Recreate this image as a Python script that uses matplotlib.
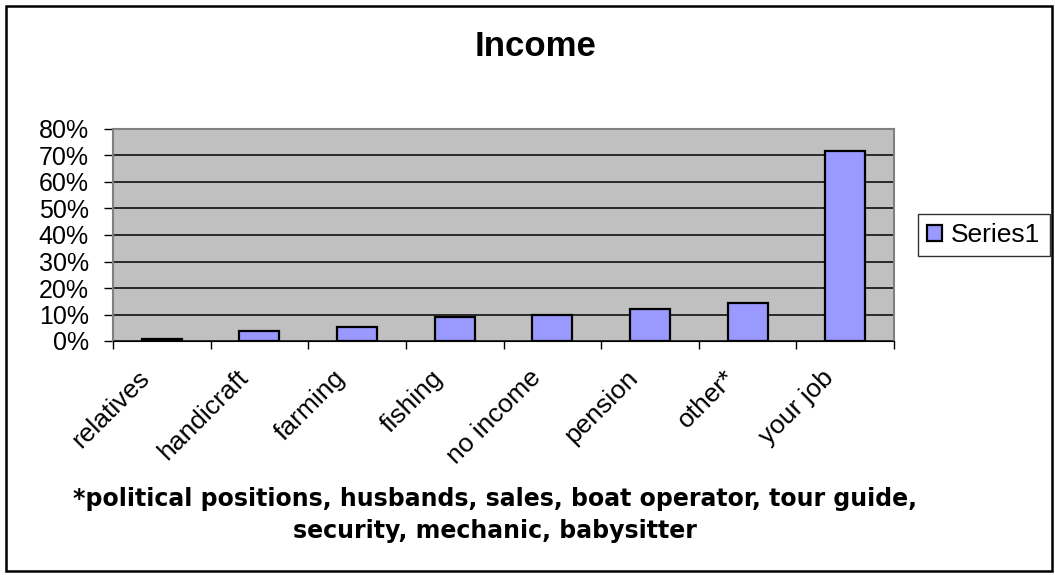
import numpy as np
import matplotlib
matplotlib.use('Agg')
import matplotlib.pyplot as plt
import matplotlib.transforms as mtransforms
from matplotlib.patches import Rectangle
from matplotlib.ticker import FuncFormatter

categories = ['relatives', 'handicraft', 'farming', 'fishing', 'no income',
              'pension', 'other*', 'your job']
values = [0.006, 0.039, 0.053, 0.089, 0.098, 0.121, 0.143, 0.716]
series_name = 'Series1'
yticks = np.arange(0, 0.81, 0.1)
title = 'Income'
footnote = ('*political positions, husbands, sales, boat operator, tour guide,\n'
            'security, mechanic, babysitter')

plt.rcParams['font.family'] = ['Liberation Sans', 'DejaVu Sans']

fig = plt.figure(figsize=(10.55, 5.75), dpi=100)
# chart area border
fig.patches.append(Rectangle((6 / 1055, 4 / 575), 1046 / 1055, 565 / 575,
                             transform=fig.transFigure, fill=False,
                             edgecolor='black', linewidth=1.8))

ax = fig.add_axes([113 / 1055, 234 / 575, 781 / 1055, 212 / 575])
ax.set_facecolor('#C0C0C0')
x = np.arange(len(categories))
ax.bar(x, values, width=0.41, color='#9999FF', edgecolor='black',
       linewidth=1.6, label=series_name, zorder=3)

ax.set_xlim(-0.5, len(categories) - 0.5)
ax.set_ylim(0, 0.8)
ax.set_yticks(yticks)
ax.yaxis.set_major_formatter(FuncFormatter(lambda v, p: '%d%%' % round(v * 100)))
ax.grid(axis='y', color='black', linewidth=1.1, zorder=1)
ax.tick_params(axis='y', labelsize=18, length=6.5, width=1, pad=11)

ax.set_xticks(x)
ax.set_xticklabels(categories, rotation=45, ha='right', va='top',
                   rotation_mode='anchor', fontsize=19)
ax.tick_params(axis='x', which='major', length=0, pad=12)
shift = mtransforms.ScaledTranslation(-0.24, -0.08, fig.dpi_scale_trans)
for lab in ax.get_xticklabels():
    lab.set_transform(lab.get_transform() + shift)
ax.set_xticks(np.arange(-0.5, len(categories)), minor=True)
ax.tick_params(axis='x', which='minor', length=6, width=1, direction='out')

for side in ['top', 'right', 'left']:
    ax.spines[side].set_color('#808080')
    ax.spines[side].set_linewidth(1.5)
ax.spines['bottom'].set_color('black')
ax.spines['bottom'].set_zorder(4)

fig.text(536 / 1055, 1 - 47 / 575, title, ha='center', va='center',
         fontsize=25, fontweight='bold')

leg = ax.legend(loc='center left', bbox_to_anchor=(1.031, 0.5), frameon=True,
                fancybox=False, edgecolor='black', fontsize=19, handlelength=0.55,
                handleheight=0.55, handletextpad=0.35, borderpad=0.35,
                borderaxespad=0)
leg.get_frame().set_linewidth(1)

fig.text(495 / 1055, 1 - 515 / 575, footnote, ha='center', va='center',
         fontsize=17, fontweight='bold', linespacing=1.45,
         family=['DejaVu Sans'])

fig.savefig('out.png', dpi=100)
